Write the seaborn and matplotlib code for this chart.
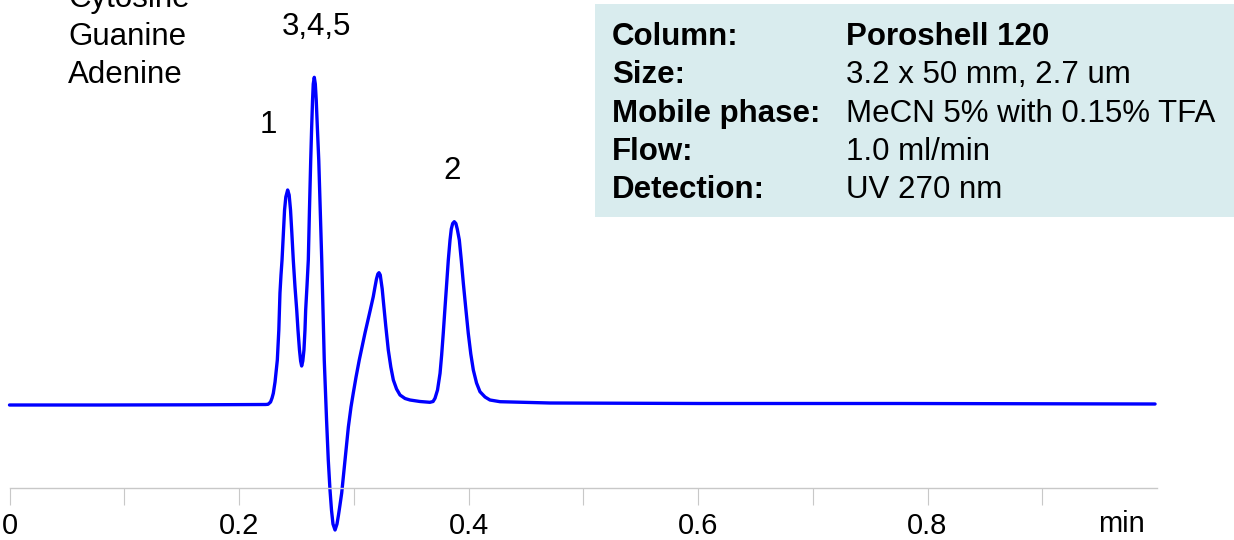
import matplotlib
matplotlib.use("Agg")
import matplotlib.pyplot as plt
from matplotlib.patches import Rectangle
import seaborn as sns
import pandas as pd

# ---- data (time in min, signal in mAU) ----
time_min = [0.0000, 0.0789, 0.1660, 0.2231, 0.2253, 0.2275, 0.2288, 0.2299, 0.2314,
            0.2334, 0.2347, 0.2357, 0.2366, 0.2375, 0.2386, 0.2397, 0.2408, 0.2424,
            0.2437, 0.2449, 0.2460, 0.2473, 0.2488, 0.2503, 0.2514, 0.2527, 0.2537,
            0.2546, 0.2556, 0.2566, 0.2575, 0.2581, 0.2593, 0.2604, 0.2614, 0.2625,
            0.2633, 0.2641, 0.2647, 0.2656, 0.2665, 0.2673, 0.2683, 0.2695, 0.2708,
            0.2721, 0.2732, 0.2743, 0.2753, 0.2763, 0.2778, 0.2793, 0.2806, 0.2819,
            0.2837, 0.2854, 0.2867, 0.2880, 0.2895, 0.2924, 0.2953, 0.2976, 0.2996,
            0.3020, 0.3048, 0.3098, 0.3142, 0.3170, 0.3185, 0.3198, 0.3210, 0.3220,
            0.3231, 0.3237, 0.3248, 0.3257, 0.3279, 0.3301, 0.3323, 0.3345, 0.3373,
            0.3403, 0.3447, 0.3490, 0.3577, 0.3664, 0.3691, 0.3708, 0.3730, 0.3752,
            0.3766, 0.3780, 0.3795, 0.3810, 0.3824, 0.3839, 0.3850, 0.3862, 0.3876,
            0.3890, 0.3902, 0.3920, 0.3937, 0.3955, 0.3976, 0.3998, 0.4020, 0.4042,
            0.4070, 0.4100, 0.4144, 0.4187, 0.4275, 0.4710, 0.6017, 0.7760, 0.9983]
signal_mau = [-0.05, -0.05, -0.03, 0.00, 0.02, 0.25, 0.65, 1.12, 2.25,
              4.45, 7.45, 11.15, 12.95, 14.45, 16.95, 19.45, 20.75, 21.45,
              20.95, 19.45, 17.25, 14.45, 11.75, 9.45, 7.45, 5.45, 4.35,
              3.85, 4.35, 5.45, 7.45, 9.45, 11.95, 14.45, 19.45, 24.45,
              27.65, 30.45, 32.05, 32.72, 32.05, 30.45, 27.65, 24.45, 19.45,
              14.45, 9.45, 4.45, 1.45, -1.55, -5.55, -8.55, -10.55, -11.95,
              -12.55, -11.95, -11.05, -10.05, -8.85, -5.55, -2.25, -0.25, 1.15,
              2.75, 4.45, 7.15, 9.35, 10.78, 11.75, 12.55, 13.05, 13.18,
              12.95, 12.45, 11.55, 10.45, 7.85, 5.45, 3.75, 2.45, 1.55,
              0.95, 0.60, 0.45, 0.30, 0.22, 0.30, 0.62, 1.45, 3.12,
              4.95, 7.12, 9.65, 12.12, 14.45, 16.45, 17.55, 18.10, 18.28,
              18.10, 17.55, 16.45, 14.45, 12.12, 9.65, 7.12, 5.05, 3.45,
              2.15, 1.28, 0.75, 0.45, 0.28, 0.15, 0.10, 0.10, 0.05]

major_ticks = [0.0, 0.2, 0.4, 0.6, 0.8]
major_labels = ["0", "0.2", "0.4", "0.6", "0.8"]
minor_ticks = [0.1, 0.3, 0.5, 0.7, 0.9]

compounds = ["Cytosine", "Guanine", "Adenine"]
peak_labels = ["1", "3,4,5", "2"]
cond_keys = ["Column:", "Size:", "Mobile phase:", "Flow:", "Detection:"]
cond_vals = ["Poroshell 120", "3.2 x 50 mm, 2.7 um", "MeCN 5% with 0.15% TFA",
             "1.0 ml/min", "UV 270 nm"]

df = pd.DataFrame({"time": time_min, "signal": signal_mau})

# ---- style ----
sns.set_style("white")
plt.rcParams["font.family"] = ["Liberation Sans", "DejaVu Sans"]
plt.rcParams["text.color"] = "black"

W, H = 1234, 540
fig = plt.figure(figsize=(W / 100, H / 100), dpi=100)
ax = fig.add_axes([0, 0, 1, 1])

sns.lineplot(data=df, x="time", y="signal", ax=ax, color="#0000FF",
             linewidth=2.4, sort=False, estimator=None)

ax.set_xlim(-0.00828, 1.0671)
ax.set_ylim(-13.55, 40.45)
ax.set_xlabel("")
ax.set_ylabel("")
ax.set_yticks([])
for s in ["left", "top", "right"]:
    ax.spines[s].set_visible(False)
ax.spines["bottom"].set_position(("data", -8.35))
ax.spines["bottom"].set_bounds(0, 1.0)
ax.spines["bottom"].set_color("#C8C8C8")
ax.spines["bottom"].set_linewidth(1.0)
ax.set_xticks(major_ticks)
ax.set_xticklabels(major_labels)
ax.set_xticks(minor_ticks, minor=True)
ax.tick_params(axis="x", which="both", bottom=True, direction="out", length=12.2,
               width=0.8, color="#C8C8C8", pad=5, labelsize=21, labelcolor="black")
ax.set_facecolor("white")


def fx(px):
    return px / W


def fy(py):
    return 1 - py / H


TXT = 22.5

# compound names (top-left)
for name, base in zip(compounds, [7.3, 45.0, 82.7]):
    fig.text(fx(68), fy(base), name, fontsize=TXT, ha="left", va="baseline")

# peak labels
for lab, (px, py) in zip(peak_labels, [(268.7, 132.7), (316.7, 35.0), (451.7, 179.3)]):
    fig.text(fx(px), fy(py), lab, fontsize=TXT, ha="center", va="baseline")

# x unit label
fig.text(fx(1121), fy(532), "min", fontsize=21, ha="center", va="baseline")

# conditions box
box = Rectangle((fx(595), fy(217)), fx(W - 595) + 0.01, (217 - 4) / H,
                transform=fig.transFigure, facecolor="#D9ECEE", edgecolor="none",
                zorder=0)
fig.patches.append(box)
for i, (k, v) in enumerate(zip(cond_keys, cond_vals)):
    base = 45.0 + i * 38.3
    fig.text(fx(612), fy(base), k, fontsize=TXT, fontweight="bold", ha="left",
             va="baseline")
    fig.text(fx(846), fy(base), v, fontsize=TXT,
             fontweight="bold" if i == 0 else "normal", ha="left", va="baseline")

fig.savefig("out.png", dpi=100, facecolor="white")
